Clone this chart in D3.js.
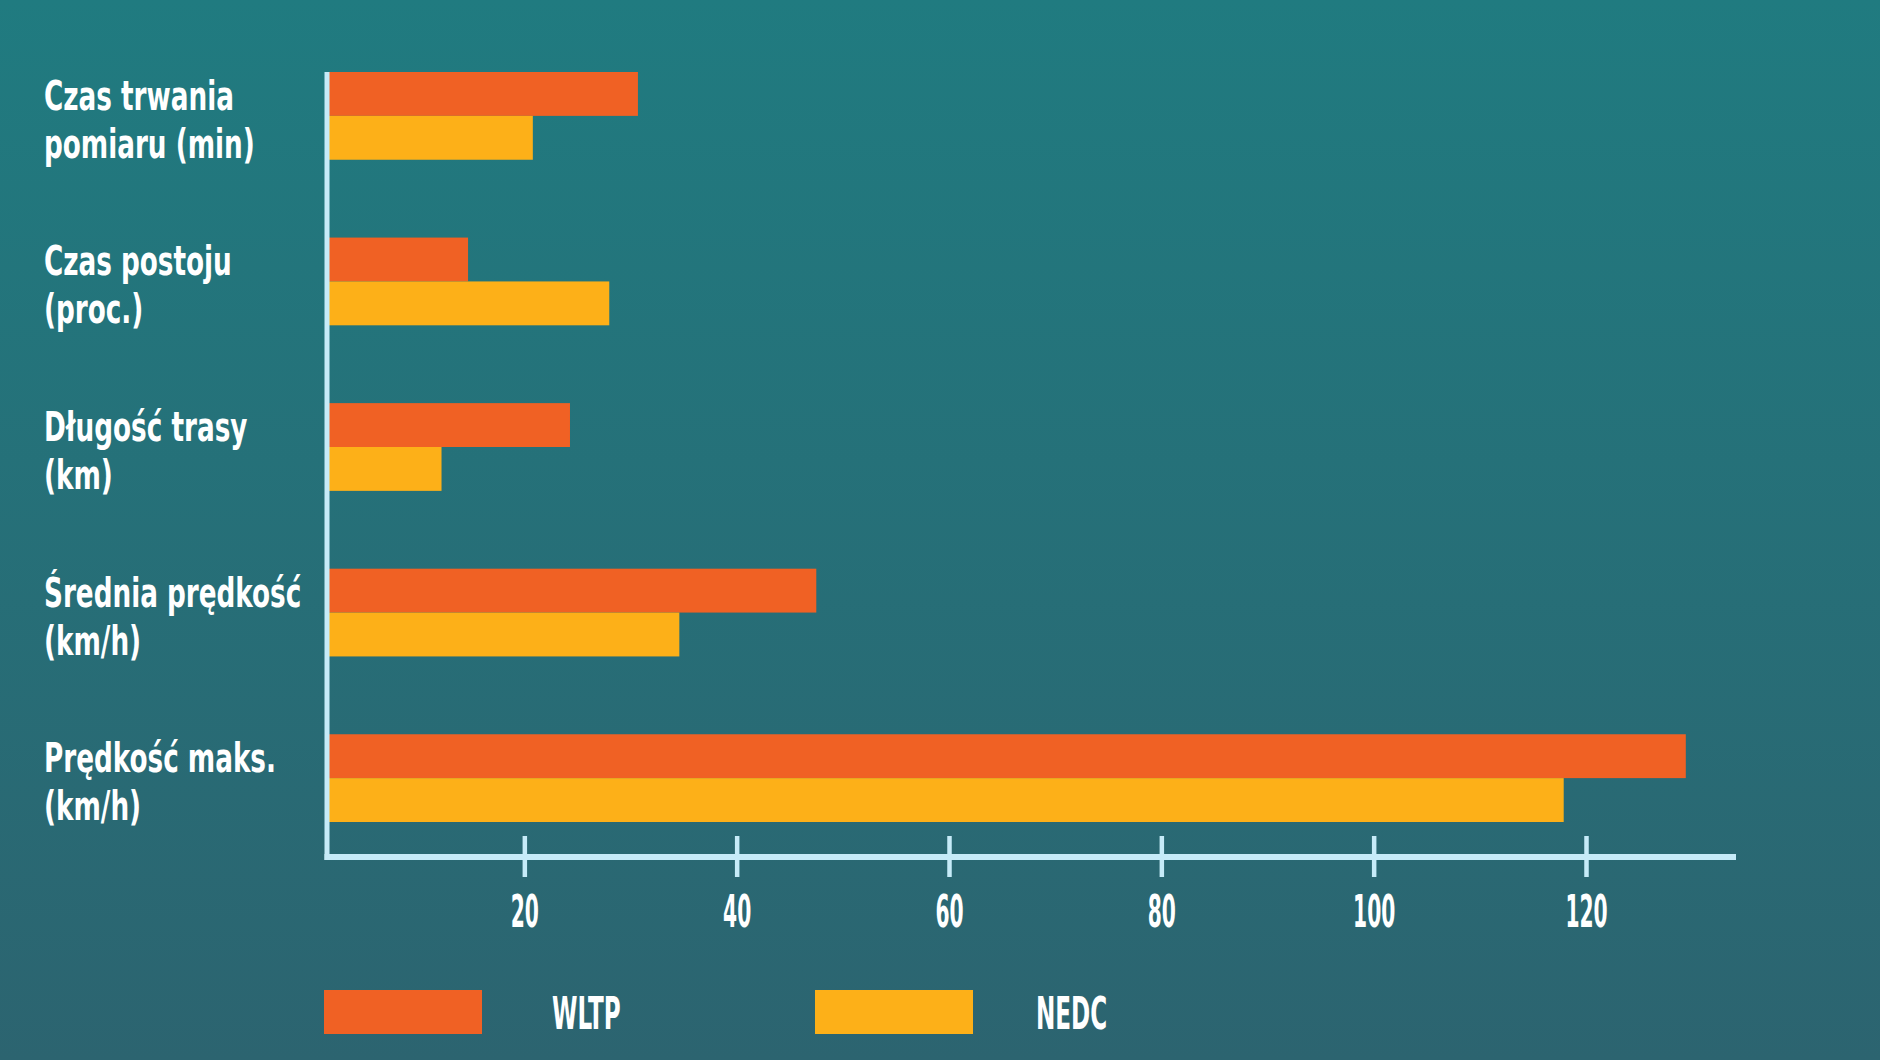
<!DOCTYPE html>
<html>
<head>
<meta charset="utf-8">
<script src="https://cdn.jsdelivr.net/npm/d3@7/dist/d3.min.js"></script>
<style>
  html, body { margin: 0; padding: 0; background: #25707a; }
  svg { display: block; }
  .lbl, .tick text, .legend text {
    font-family: 'DejaVu Sans Condensed', 'DejaVu Sans', sans-serif;
    font-weight: bold;
    fill: #ffffff;
  }
</style>
</head>
<body>
<div id="chart"></div>
<script>
// categories, two lines each
const categories = [
  ['Czas trwania', 'pomiaru (min)'],
  ['Czas postoju', '(proc.)'],
  ['Długość trasy', '(km)'],
  ['Średnia prędkość', '(km/h)'],
  ['Prędkość maks.', '(km/h)']
];
const seriesNames = ['WLTP', 'NEDC'];
const wltp = [30.7, 14.7, 24.3, 47.5, 129.4];
const nedc = [20.8, 28.0, 12.2, 34.6, 117.9];
const tickValues = [20, 40, 60, 80, 100, 120];
const colors = ['#f06124', '#fdb018'];

const W = 1880, H = 1060;
const axisX = 327, axisY = 857, axisEnd = 1736;
const axisColor = '#c6ebf8';

const svg = d3.select('#chart')
  .append('svg')
  .attr('width', W)
  .attr('height', H);

const grad = svg.append('defs')
  .append('linearGradient')
  .attr('id', 'bg')
  .attr('x1', '0%').attr('y1', '0%')
  .attr('x2', '0%').attr('y2', '100%');
grad.append('stop').attr('offset', '0%').attr('stop-color', '#207b80');
grad.append('stop').attr('offset', '100%').attr('stop-color', '#2c6470');

svg.append('rect')
  .attr('width', W)
  .attr('height', H)
  .attr('fill', 'url(#bg)');

// scales
const x = d3.scaleLinear().domain([0, 120]).range([312, 1586]);

const y = d3.scaleBand()
  .domain(d3.range(categories.length))
  .range([72, 822])
  .paddingInner(0.47)
  .paddingOuter(0);

const ySub = d3.scaleBand()
  .domain(seriesNames)
  .range([0, y.bandwidth()]);

const rows = categories.map((c, i) => ({ i: i, lines: c, values: [wltp[i], nedc[i]] }));

// bars
const groups = svg.selectAll('g.grp')
  .data(rows)
  .enter()
  .append('g')
  .attr('class', 'grp')
  .attr('transform', d => 'translate(0,' + y(d.i) + ')');

groups.selectAll('rect')
  .data(d => d.values.map((v, k) => ({ v: v, k: k })))
  .enter()
  .append('rect')
  .attr('x', axisX)
  .attr('y', d => ySub(seriesNames[d.k]))
  .attr('width', d => x(d.v) - axisX)
  .attr('height', ySub.bandwidth())
  .attr('fill', d => colors[d.k]);

// category labels
groups.each(function (d) {
  const g = d3.select(this);
  const mid = y.bandwidth() / 2;
  d.lines.forEach((t, j) => {
    g.append('text')
      .attr('class', 'lbl')
      .attr('transform', 'translate(44,' + (mid - 6 + j * 48) + ') scale(0.73,1)')
      .style('font-size', '40px')
      .text(t);
  });
});

// x axis
const xAxis = d3.axisBottom(x)
  .tickValues(tickValues)
  .tickSize(0)
  .tickFormat(d3.format('d'));

const ax = svg.append('g')
  .attr('transform', 'translate(0,' + axisY + ')')
  .call(xAxis);
ax.select('.domain').remove();
ax.selectAll('.tick line')
  .attr('y1', -21)
  .attr('y2', 20)
  .attr('stroke', axisColor)
  .attr('stroke-width', 4.5);
ax.selectAll('.tick text')
  .attr('y', 0)
  .attr('dy', null)
  .attr('transform', 'translate(0,70) scale(0.5,1)')
  .style('font-size', '45px');

// axis lines
svg.append('line')
  .attr('x1', axisX).attr('x2', axisX)
  .attr('y1', 72).attr('y2', axisY + 3)
  .attr('stroke', axisColor)
  .attr('stroke-width', 5);
svg.append('line')
  .attr('x1', axisX - 2.5).attr('x2', axisEnd)
  .attr('y1', axisY).attr('y2', axisY)
  .attr('stroke', axisColor)
  .attr('stroke-width', 6);

// legend
const legendX = [324, 815];
const legendTextX = [552, 1036];
const legend = svg.selectAll('g.legend')
  .data(seriesNames)
  .enter()
  .append('g')
  .attr('class', 'legend');
legend.append('rect')
  .attr('x', (d, i) => legendX[i])
  .attr('y', 990)
  .attr('width', 158)
  .attr('height', 44)
  .attr('fill', (d, i) => colors[i]);
legend.append('text')
  .attr('transform', (d, i) => 'translate(' + legendTextX[i] + ',1029) scale(0.57,1)')
  .style('font-size', '45px')
  .text(d => d);
</script>
</body>
</html>
